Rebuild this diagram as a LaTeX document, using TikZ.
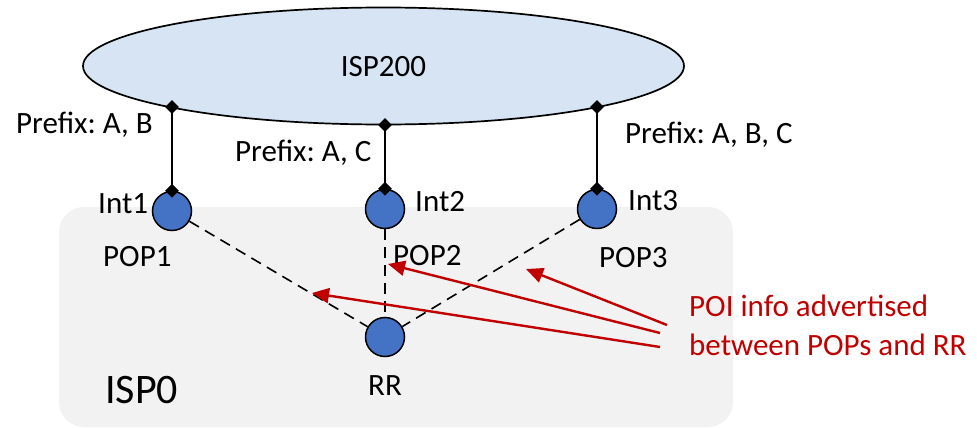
\documentclass[tikz,border=0pt]{standalone}
\usepackage{fontspec}
\setmainfont{Carlito}
\usetikzlibrary{arrows.meta,shapes.geometric}
\definecolor{ellfill}{HTML}{D6E4F3}
\definecolor{popblue}{HTML}{4472C4}
\definecolor{boxgray}{HTML}{F2F2F2}
\definecolor{darkred}{HTML}{C00000}
\tikzset{
  lbl/.style={font=\fontsize{31}{38}\selectfont, inner sep=0pt, anchor=base west},
  pop/.style={circle, draw=black, line width=1.5pt, fill=popblue, minimum size=39pt, inner sep=0pt},
  dmd/.style={diamond, fill=black, inner sep=0pt, minimum size=14pt},
  link/.style={line width=1.8pt},
  ibgp/.style={line width=1.6pt, dash pattern=on 11pt off 7pt},
  poi/.style={draw=darkred, line width=2.4pt, -{Triangle[length=17pt,width=15pt]}},
}
\begin{document}
\frenchspacing
\begin{tikzpicture}[x=1pt,y=-1pt]
\useasboundingbox (0,0) rectangle (977,428);
% ISP0 region
\fill[boxgray, rounded corners=25pt] (59,207) rectangle (733,427);
% ISP200 ellipse
\node[ellipse, draw=black, line width=1.7pt, fill=ellfill, minimum width=601pt, minimum height=117pt, inner sep=0pt] (isp200) at (383.5,66) {};
\node[lbl, anchor=base] at (383.5,77) {ISP200};
% POP and RR nodes
\node[pop] (pop1) at (172,211) {};
\node[pop] (pop2) at (385,209) {};
\node[pop] (pop3) at (597,209) {};
\node[pop] (rr) at (385,337) {};
% iBGP dashed links
\draw[ibgp] (pop1) -- (rr);
\draw[ibgp] (pop2) -- (rr);
\draw[ibgp] (pop3) -- (rr);
% interconnects
\node[dmd] (t1) at (172,107) {};
\node[dmd] (t2) at (385,125) {};
\node[dmd] (t3) at (597,107) {};
\node[dmd] (b1) at (pop1.north) {};
\node[dmd] (b2) at (pop2.north) {};
\node[dmd] (b3) at (pop3.north) {};
\draw[link] (t1.center) -- (b1.center);
\draw[link] (t2.center) -- (b2.center);
\draw[link] (t3.center) -- (b3.center);
% labels
\node[lbl] (pfx1) at (16,133) {Prefix: A, B};
\node[lbl] (pfx2) at (235,161) {Prefix: A, C};
\node[lbl] (pfx3) at (625,143) {Prefix: A, B, C};
\node[lbl] (int1) at (98,213) {Int1};
\node[lbl] (int2) at (415,211) {Int2};
\node[lbl] (int3) at (628,210) {Int3};
\node[lbl] (l1) at (103,266) {POP1};
\node[lbl] (l2) at (393,265) {POP2};
\node[lbl] (l3) at (599,267) {POP3};
\node[lbl, anchor=base] (lrr) at (385,395) {RR};
\node[lbl, font=\fontsize{42}{50}\selectfont] (isp0) at (105,403) {ISP0};
\node[lbl, text=darkred] (poi1) at (689,316) {POI info advertised};
\node[lbl, text=darkred] (poi2) at (689,355) {between POPs and RR};
% red arrows
\coordinate (s1) at (667,325);
\coordinate (s2) at (660,333);
\coordinate (s3) at (660,347);
\coordinate (e1) at (526,269);
\coordinate (e2) at (388,264);
\coordinate (e3) at (312,293);
\draw[poi] (s1) -- (e1);
\draw[poi] (s2) -- (e2);
\draw[poi] (s3) -- (e3);
\end{tikzpicture}
\end{document}
